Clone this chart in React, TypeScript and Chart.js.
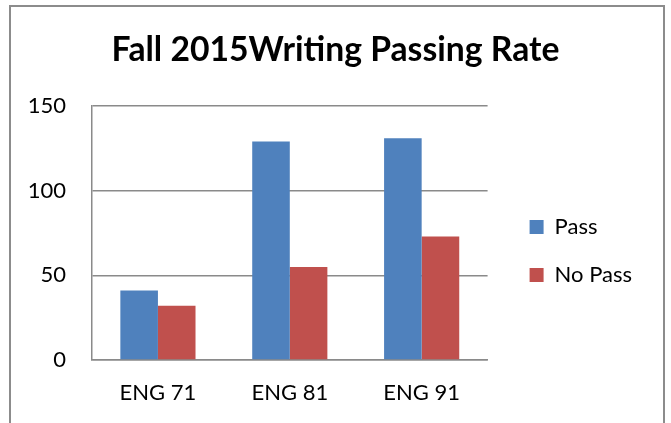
import React, { useEffect, useRef } from "react";
import { Chart, registerables } from "chart.js";

Chart.register(...registerables);

const titleText = "Fall 2015Writing Passing Rate";
const categories = ["ENG 71", "ENG 81", "ENG 91"];
const passValues = [41, 129, 131];
const noPassValues = [32, 55, 73];
const seriesNames = ["Pass", "No Pass"];
const yMin = 0;
const yMax = 150;
const yStep = 50;

const FONT = "Lato, 'Open Sans', sans-serif";
const GRID = "#8a8a8a";

const framePlugin = {
  id: "frame",
  beforeDraw(chart: any) {
    const ctx = chart.ctx;
    ctx.save();
    ctx.strokeStyle = "#8c8c8c";
    ctx.lineWidth = 2;
    ctx.beginPath();
    ctx.moveTo(10, chart.height + 5);
    ctx.lineTo(10, 6);
    ctx.lineTo(664, 6);
    ctx.lineTo(664, chart.height + 5);
    ctx.stroke();
    ctx.restore();
  },
};

const shiftPlugin = {
  id: "boxShift",
  afterLayout(chart: any, _args: any, opts: any) {
    const l = chart.legend;
    if (l) {
      l.left += opts.legendDx || 0;
      l.right += opts.legendDx || 0;
      l.top += opts.legendDy || 0;
      l.bottom += opts.legendDy || 0;
    }
    const t = chart.titleBlock;
    if (t) {
      t.left += opts.titleDx || 0;
      t.right += opts.titleDx || 0;
    }
  },
};

export default function App() {
  const ref = useRef<HTMLCanvasElement>(null);
  useEffect(() => {
    if (!ref.current) return;
    const chart = new Chart(ref.current, {
      type: "bar",
      data: {
        labels: categories,
        datasets: [
          {
            label: seriesNames[0],
            data: passValues,
            backgroundColor: "#4F81BD",
            borderWidth: 0,
            categoryPercentage: 0.57,
            barPercentage: 1,
          },
          {
            label: seriesNames[1],
            data: noPassValues,
            backgroundColor: "#C0504D",
            borderWidth: 0,
            categoryPercentage: 0.57,
            barPercentage: 1,
          },
        ],
      },
      options: {
        responsive: false,
        animation: false,
        devicePixelRatio: 1,
        layout: { padding: { top: 0, left: 0, right: 45, bottom: 0 } },
        plugins: {
          title: {
            display: true,
            text: titleText,
            color: "#000",
            font: { family: FONT, size: 33.7, weight: "bold" },
            padding: { top: 29.5, bottom: 36.1 },
          },
          legend: {
            display: true,
            position: "right",
            labels: {
              color: "#000",
              font: { family: FONT, size: 22 },
              boxWidth: 14,
              boxHeight: 14,
              padding: 26,
            },
          },
          tooltip: { enabled: false },
          boxShift: { legendDx: 16, legendDy: 39.5, titleDx: 22.5 },
        } as any,
        scales: {
          x: {
            grid: { display: false, drawTicks: false },
            border: { display: true, color: GRID, width: 1.5 },
            ticks: {
              color: "#000",
              font: { family: FONT, size: 22 },
              padding: 20,
            },
            afterFit: (s: any) => {
              s.height = 63;
            },
          },
          y: {
            min: yMin,
            max: yMax,
            grid: { color: GRID, lineWidth: 1.5, drawTicks: false },
            border: { display: true, color: GRID, width: 1.5 },
            ticks: {
              stepSize: yStep,
              color: "#000",
              font: { family: FONT, size: 22 },
              padding: 26,
            },
            afterFit: (s: any) => {
              s.width = 92;
            },
          },
        },
      },
      plugins: [framePlugin, shiftPlugin],
    });
    return () => chart.destroy();
  }, []);
  return (
    <div style={{ position: "absolute", left: 0, top: 0, width: 671, height: 423, background: "#fff" }}>
      <canvas ref={ref} width={671} height={423} style={{ display: "block" }} />
    </div>
  );
}
